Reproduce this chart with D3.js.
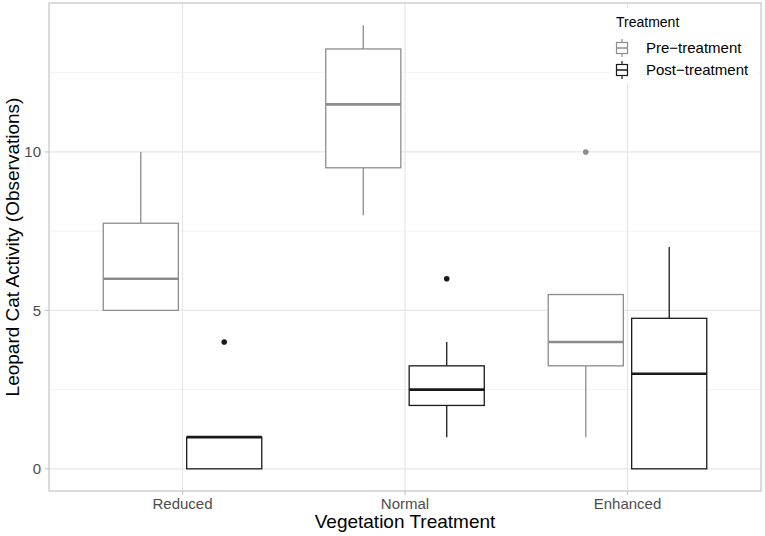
<!DOCTYPE html>
<html><head><meta charset="utf-8">
<script src="https://cdn.jsdelivr.net/npm/d3@7/dist/d3.min.js"></script>
<style>body{margin:0;background:#fff}svg{display:block;font-family:"Liberation Sans",Arial,sans-serif}</style>
</head><body><svg id="c" width="765" height="536"></svg>
<script>
const categories = ["Reduced", "Normal", "Enhanced"];
const groups = ["Pre-treatment", "Post-treatment"];
// [whiskerLow, Q1, median, Q3, whiskerHigh]
const preStats = [[5, 5, 6, 7.75, 10], [8, 9.5, 11.5, 13.25, 14], [1, 3.25, 4, 5.5, 5.5]];
const postStats = [[0, 0, 1, 1, 1], [1, 2, 2.5, 3.25, 4], [0, 0, 3, 4.75, 7]];
const preOutliers = [[], [], [10]];
const postOutliers = [[4], [6], []];
const yTicks = [0, 5, 10];
const yMinor = [2.5, 7.5, 12.5];

const svg = d3.select("#c");
const L = 49, R = 761, T = 3, B = 491;
const y = d3.scaleLinear().domain([-0.7, 14.7]).range([B, T]);
const xi = d3.scaleLinear().domain([0.4, 3.6]).range([L, R]);
const colors = {"Pre-treatment": "#8c8c8c", "Post-treatment": "#1a1a1a"};

// grid
const g = svg.append("g");
g.selectAll(".mn").data(yMinor).join("line").attr("x1", L).attr("x2", R)
  .attr("y1", d => y(d)).attr("y2", d => y(d)).attr("stroke", "#f3f3f3").attr("stroke-width", 1);
g.selectAll(".mj").data(yTicks).join("line").attr("x1", L).attr("x2", R)
  .attr("y1", d => y(d)).attr("y2", d => y(d)).attr("stroke", "#e6e6e6").attr("stroke-width", 1.2);
g.selectAll(".vx").data(categories).join("line").attr("y1", T).attr("y2", B)
  .attr("x1", (d, i) => xi(i + 1)).attr("x2", (d, i) => xi(i + 1)).attr("stroke", "#e6e6e6").attr("stroke-width", 1.2);

// boxes
const dodge = 0.1875, bw = 0.3375;
function drawBox(stats, outl, grp, off) {
  const col = colors[grp];
  stats.forEach((s, i) => {
    const cx = xi(i + 1 + off), x0 = xi(i + 1 + off - bw / 2), x1 = xi(i + 1 + off + bw / 2);
    const bg = svg.append("g");
    bg.append("line").attr("x1", cx).attr("x2", cx).attr("y1", y(s[3])).attr("y2", y(s[4])).attr("stroke", col).attr("stroke-width", 1.3);
    bg.append("line").attr("x1", cx).attr("x2", cx).attr("y1", y(s[0])).attr("y2", y(s[1])).attr("stroke", col).attr("stroke-width", 1.3);
    bg.append("rect").attr("x", x0).attr("width", x1 - x0).attr("y", y(s[3])).attr("height", y(s[1]) - y(s[3]))
      .attr("fill", "#fff").attr("stroke", col).attr("stroke-width", 1.3);
    bg.append("line").attr("x1", x0).attr("x2", x1).attr("y1", y(s[2])).attr("y2", y(s[2])).attr("stroke", col).attr("stroke-width", 2.6);
    outl[i].forEach(o => bg.append("circle").attr("cx", cx).attr("cy", y(o)).attr("r", 2.8).attr("fill", col));
  });
}
drawBox(preStats, preOutliers, "Pre-treatment", -dodge);
drawBox(postStats, postOutliers, "Post-treatment", dodge);

// panel border
svg.append("rect").attr("x", L).attr("y", T).attr("width", R - L).attr("height", B - T)
  .attr("fill", "none").attr("stroke", "#c8c8c8").attr("stroke-width", 1.3);

// axes ticks/labels
const yt = svg.append("g");
yTicks.forEach(t => {
  yt.append("line").attr("x1", L - 4).attr("x2", L).attr("y1", y(t)).attr("y2", y(t)).attr("stroke", "#c8c8c8").attr("stroke-width", 1.2);
  yt.append("text").attr("x", L - 8).attr("y", y(t)).attr("dy", "0.35em").attr("text-anchor", "end")
    .attr("font-size", 15).attr("fill", "#4d4d4d").text(t);
});
categories.forEach((c, i) => {
  yt.append("line").attr("x1", xi(i + 1)).attr("x2", xi(i + 1)).attr("y1", B).attr("y2", B + 4).attr("stroke", "#c8c8c8").attr("stroke-width", 1.2);
  yt.append("text").attr("x", xi(i + 1)).attr("y", B + 18).attr("text-anchor", "middle")
    .attr("font-size", 15).attr("fill", "#4d4d4d").text(c);
});
svg.append("text").attr("x", (L + R) / 2).attr("y", 528).attr("text-anchor", "middle").attr("font-size", 19).attr("fill", "#000").text("Vegetation Treatment");
svg.append("text").attr("transform", `translate(19,${(T + B) / 2}) rotate(-90)`).attr("text-anchor", "middle")
  .attr("font-size", 19).attr("fill", "#000").text("Leopard Cat Activity (Observations)");

// legend
const lg = svg.append("g");
lg.append("rect").attr("x", 610).attr("y", 8).attr("width", 148).attr("height", 75).attr("fill", "#fff");
lg.append("text").attr("x", 616).attr("y", 27).attr("font-size", 14).attr("fill", "#000").text("Treatment");
groups.forEach((gname, i) => {
  const cy = 48 + i * 22, col = colors[gname], cx = 622;
  lg.append("line").attr("x1", cx).attr("x2", cx).attr("y1", cy - 9).attr("y2", cy + 9).attr("stroke", col).attr("stroke-width", 1.2);
  lg.append("rect").attr("x", cx - 5.5).attr("y", cy - 5.5).attr("width", 11).attr("height", 11).attr("fill", "#fff").attr("stroke", col).attr("stroke-width", 1.2);
  lg.append("line").attr("x1", cx - 5.5).attr("x2", cx + 5.5).attr("y1", cy).attr("y2", cy).attr("stroke", col).attr("stroke-width", 1.5);
  lg.append("text").attr("x", 646).attr("y", cy).attr("dy", "0.35em").attr("font-size", 15).attr("fill", "#000").text(gname.replace("-", "\u2212"));
});
</script></body></html>
